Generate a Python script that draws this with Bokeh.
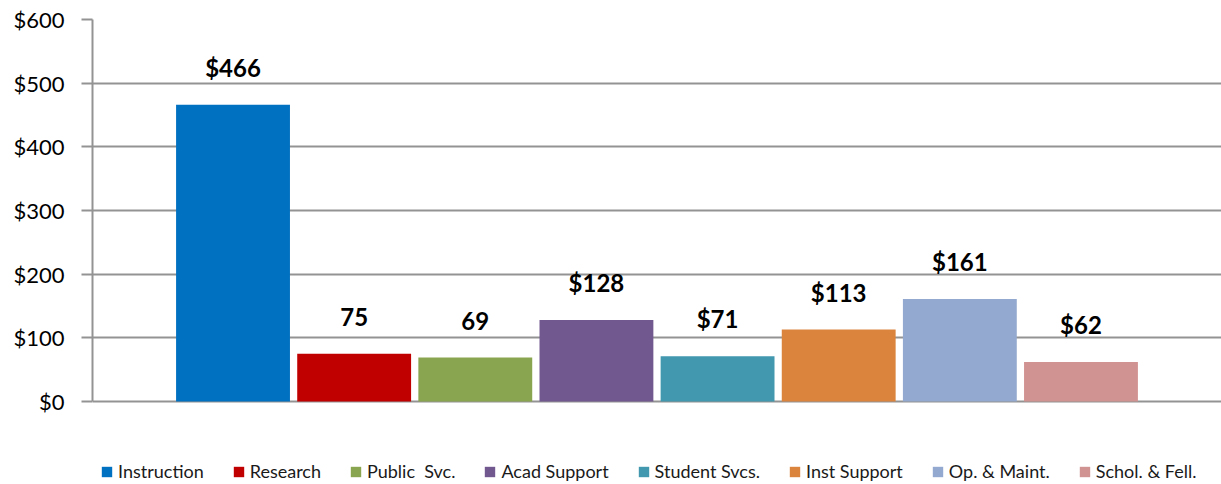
from bokeh.plotting import figure
from bokeh.models import (ColumnDataSource, Range1d, FixedTicker, LabelSet,
                          Legend, LegendItem)
from bokeh.core.properties import value
from bokeh.embed import file_html
from bokeh.resources import INLINE

categories = ["Instruction", "Research", "Public  Svc.", "Acad Support",
              "Student Svcs.", "Inst Support", "Op. & Maint.", "Schol. & Fell."]
values = [466, 75, 69, 128, 71, 113, 161, 62]
bar_labels = ["$466", "75", "69", "$128", "$71", "$113", "$161", "$62"]
colors = ["#0070C0", "#C00000", "#8AA54F", "#71588F",
          "#4198AF", "#DB843D", "#93A9CF", "#D19392"]
y_ticks = [0, 100, 200, 300, 400, 500, 600]
y_tick_labels = ["$0", "$100", "$200", "$300", "$400", "$500", "$600"]

FONT = "Lato"
GRAY = "#939393"

xs = list(range(len(categories)))
source = ColumnDataSource(dict(x=xs, top=values, label=bar_labels))

p = figure(width=1221, height=484, output_backend="svg", toolbar_location=None,
           x_range=Range1d(-1.16, 8.16), y_range=Range1d(-130.4, 600),
           min_border_left=92, min_border_right=0, min_border_top=19,
           min_border_bottom=0)
p.outline_line_color = None
p.background_fill_color = "white"
p.border_fill_color = "white"

renderers = []
for i in xs:
    sub = ColumnDataSource(dict(x=[xs[i]], top=[values[i]]))
    r = p.vbar(x="x", top="top", bottom=0, width=0.94, source=sub,
               fill_color=colors[i], line_color=None)
    renderers.append(r)

labels = LabelSet(x="x", y="top", text="label", source=source,
                  text_align="center", text_baseline="alphabetic",
                  y_offset=28, text_font=value(FONT), text_font_style="bold",
                  text_font_size="24px", text_color="black")
p.add_layout(labels)

p.xaxis.visible = False
p.xgrid.visible = False
p.ygrid.grid_line_color = GRAY
p.ygrid.grid_line_width = 2
p.yaxis.ticker = FixedTicker(ticks=y_ticks)
p.yaxis.bounds = (0, 600)
p.yaxis.major_label_overrides = {t: l for t, l in zip(y_ticks, y_tick_labels)}
p.yaxis.axis_line_color = GRAY
p.yaxis.axis_line_width = 2
p.yaxis.major_tick_line_color = GRAY
p.yaxis.major_tick_line_width = 2
p.yaxis.major_tick_out = 11
p.yaxis.major_tick_in = 0
p.yaxis.minor_tick_line_color = None
p.yaxis.major_label_standoff = 17
p.yaxis.major_label_text_font = FONT
p.yaxis.major_label_text_font_size = "22px"
p.yaxis.major_label_text_color = "black"

items = [LegendItem(label=categories[i], renderers=[renderers[i]]) for i in xs]
legend = Legend(items=items, orientation="horizontal", location=(8, 2),
                glyph_width=13, glyph_height=13, label_height=13,
                label_standoff=5, spacing=28, padding=0, margin=0,
                border_line_color=None, background_fill_alpha=0,
                label_text_font=FONT, label_text_font_size="18px",
                label_text_color="#1a1a1a")
p.add_layout(legend, "center")

open("out.html", "w").write(file_html(p, INLINE))
